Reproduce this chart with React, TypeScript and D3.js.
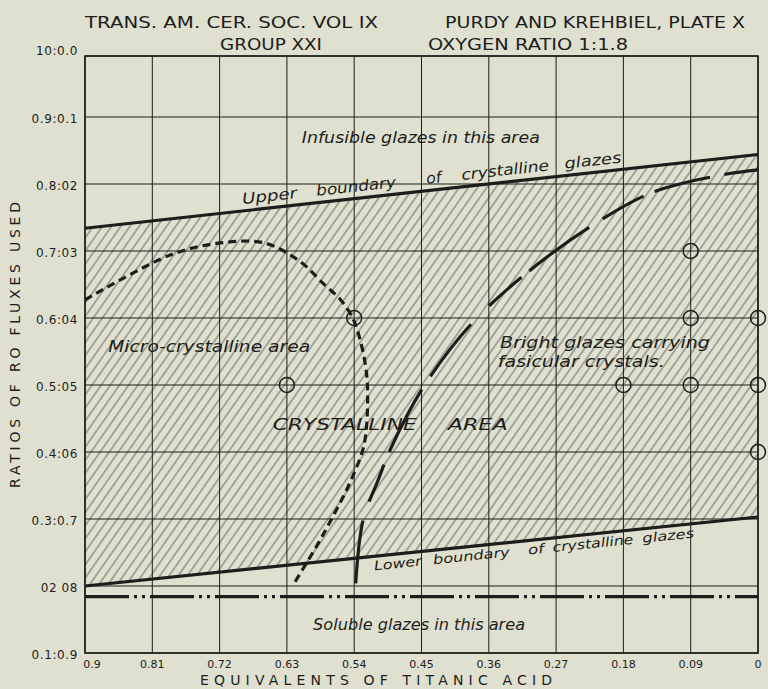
import * as d3 from "d3";

const W = 768;
const H = 689;

// axis ticks as printed on the plate
const xTicks = [0.9, 0.81, 0.72, 0.63, 0.54, 0.45, 0.36, 0.27, 0.18, 0.09, 0];
const xTickLabels = ["0.9", "0.81", "0.72", "0.63", "0.54", "0.45", "0.36", "0.27", "0.18", "0.09", "0"];
const yTicks = [1.0, 0.9, 0.8, 0.7, 0.6, 0.5, 0.4, 0.3, 0.2, 0.1];
const yTickLabels = ["10:0.0", "0.9:0.1", "0.8:02", "0.7:03", "0.6:04", "0.5:05", "0.4:06", "0.3:0.7", "02 08", "0.1:0.9"];

// boundaries [titanic acid, RO ratio]
const upperBoundary: [number, number][] = [[0.9, 0.734], [0, 0.844]];
const lowerBoundary: [number, number][] = [[0.9, 0.2], [0, 0.303]];
const solubleLimit: [number, number][] = [[0.9, 0.184], [0, 0.184]];

// micro-crystalline limit (short dashes)
const microCurve: [number, number][] = [
  [0.9, 0.627], [0.786, 0.694], [0.719, 0.712], [0.66, 0.712],
  [0.612, 0.684], [0.582, 0.652], [0.558, 0.627], [0.542, 0.6], [0.532, 0.567],
  [0.524, 0.522], [0.522, 0.478], [0.527, 0.41], [0.545, 0.356], [0.566, 0.309],
  [0.59, 0.26], [0.622, 0.201],
];

// bright glaze limit (long dashes)
const brightCurve: [number, number][] = [
  [0.538, 0.204], [0.528, 0.299], [0.508, 0.358], [0.492, 0.403], [0.448, 0.496],
  [0.381, 0.594], [0.296, 0.679], [0.215, 0.743], [0.14, 0.788], [0.051, 0.813],
  [0, 0.821],
];

const samples: [number, number][] = [
  [0.63, 0.5], [0.54, 0.6], [0.18, 0.5], [0.09, 0.7], [0.09, 0.6],
  [0.09, 0.5], [0, 0.6], [0, 0.5], [0, 0.4],
];

// area notes: text, x, y (data units, left/baseline)
const notes: { text: string; x: number; y: number; len: number }[] = [
  { text: "Infusible glazes in this area", x: 0.61, y: 0.861, len: 238 },
  { text: "Micro-crystalline area", x: 0.869, y: 0.549, len: 202 },
  { text: "Bright glazes carrying", x: 0.345, y: 0.555, len: 210 },
  { text: "fasicular crystals.", x: 0.348, y: 0.527, len: 167 },
  { text: "CRYSTALLINE", x: 0.649, y: 0.433, len: 144 },
  { text: "AREA", x: 0.415, y: 0.433, len: 60 },
  { text: "Soluble glazes in this area", x: 0.595, y: 0.134, len: 212 },
];

const upperWords = [
  { text: "Upper", x: 0.689, len: 55 },
  { text: "boundary", x: 0.59, len: 80 },
  { text: "of", x: 0.443, len: 15 },
  { text: "crystalline", x: 0.396, len: 88 },
  { text: "glazes", x: 0.258, len: 57 },
];
const lowerWords = [
  { text: "Lower", x: 0.513, len: 48 },
  { text: "boundary", x: 0.434, len: 77 },
  { text: "of", x: 0.307, len: 16 },
  { text: "crystalline", x: 0.274, len: 81 },
  { text: "glazes", x: 0.154, len: 52 },
];

const INK = "#1d1d1b";
const PAPER = "#dfe0cf";
const FONT = "'DejaVu Sans', sans-serif";

export default function App() {
  const x = d3.scaleLinear().domain([0.9, 0]).range([85, 758]);
  // the top row of the plate is drawn a little shorter than the others
  const y = d3.scaleLinear().domain([0.1, 0.9, 1.0]).range([653, 117, 56]);

  const straight = d3.line<[number, number]>().x((d) => x(d[0])).y((d) => y(d[1]));
  const smooth = d3
    .line<[number, number]>()
    .x((d) => x(d[0]))
    .y((d) => y(d[1]))
    .curve(d3.curveCatmullRom.alpha(0.5));

  const hatchPoly = [...upperBoundary, ...lowerBoundary.slice().reverse()];
  const hatchPath = straight(hatchPoly) + "Z";

  const lineAt = (b: [number, number][], v: number) => {
    const t = (v - b[0][0]) / (b[1][0] - b[0][0]);
    return b[0][1] + t * (b[1][1] - b[0][1]);
  };
  const angleOf = (b: [number, number][]) =>
    (Math.atan2(y(b[1][1]) - y(b[0][1]), x(b[1][0]) - x(b[0][0])) * 180) / Math.PI;
  const upAngle = angleOf(upperBoundary);
  const lowAngle = angleOf(lowerBoundary);

  const x0 = x(0.9);
  const x1 = x(0);
  const y0 = y(1.0);
  const y1 = y(0.1);

  return (
    <div style={{ position: "absolute", left: 0, top: 0, width: W, height: H, background: PAPER }}>
      <svg width={W} height={H} style={{ display: "block" }} fontFamily={FONT}>
        <defs>
          <pattern
            id="hatch"
            patternUnits="userSpaceOnUse"
            width={7.5}
            height={7.5}
            patternTransform="rotate(35)"
          >
            <line x1={3.75} y1={0} x2={3.75} y2={7.5} stroke="#4a4a45" strokeWidth={0.8} />
          </pattern>
        </defs>
        <rect width={W} height={H} fill={PAPER} />

        {/* title block */}
        <g fill={INK} fontSize={15}>
          <text x={85} y={28} textLength={293} lengthAdjust="spacingAndGlyphs">
            TRANS. AM. CER. SOC. VOL IX
          </text>
          <text x={445} y={28} textLength={300} lengthAdjust="spacingAndGlyphs">
            PURDY AND KREHBIEL, PLATE X
          </text>
          <text x={220} y={50} textLength={102} lengthAdjust="spacingAndGlyphs">
            GROUP XXI
          </text>
          <text x={428} y={50} textLength={200} lengthAdjust="spacingAndGlyphs">
            OXYGEN RATIO 1:1.8
          </text>
        </g>

        {/* hatched crystalline band */}
        <path d={hatchPath} fill="url(#hatch)" />

        {/* grid */}
        <g stroke={INK} strokeWidth={1}>
          {xTicks.map((t) => (
            <line key={"gx" + t} x1={x(t)} x2={x(t)} y1={y0} y2={y1} />
          ))}
          {yTicks.map((t) => (
            <line key={"gy" + t} x1={x0} x2={x1} y1={y(t)} y2={y(t)} />
          ))}
        </g>
        <rect x={x0} y={y0} width={x1 - x0} height={y1 - y0} fill="none" stroke={INK} strokeWidth={1.6} />

        {/* tick labels */}
        <g fill={INK} fontSize={12}>
          {yTicks.map((t, i) => (
            <text key={"ty" + t} x={78} y={y(t) + (i === 0 ? -1 : 6)} textAnchor="end" letterSpacing={0.6}>
              {yTickLabels[i]}
            </text>
          ))}
          {xTicks.map((t, i) => (
            <text key={"tx" + t} x={x(t) + (i === 0 ? 7 : 0)} y={668} fontSize={11} textAnchor="middle">
              {xTickLabels[i]}
            </text>
          ))}
        </g>

        {/* axis titles */}
        <text x={376} y={685} fontSize={14} fill={INK} textAnchor="middle" textLength={352} lengthAdjust="spacing">
          EQUIVALENTS   OF   TITANIC   ACID
        </text>
        <text
          transform={`translate(20,345) rotate(-90)`}
          fontSize={14}
          fill={INK}
          textAnchor="middle"
          textLength={286}
          lengthAdjust="spacing"
        >
          RATIOS OF RO FLUXES USED
        </text>

        {/* boundaries */}
        <path d={straight(upperBoundary) || ""} fill="none" stroke={INK} strokeWidth={3.2} />
        <path d={straight(lowerBoundary) || ""} fill="none" stroke={INK} strokeWidth={3.2} />
        <path
          d={straight(solubleLimit) || ""}
          fill="none"
          stroke={INK}
          strokeWidth={3.2}
          strokeDasharray="44 5 3 5 3 5"
        />
        <path
          d={smooth(microCurve) || ""}
          fill="none"
          stroke={INK}
          strokeWidth={3.2}
          strokeDasharray="8 5"
        />
        <path
          d={smooth(brightCurve) || ""}
          fill="none"
          stroke={INK}
          strokeWidth={3.2}
          strokeDasharray="63 20 40 14 70 16 66 26 43 10 74 16 47 12 57 15 40"
        />

        {/* sample circles */}
        <g fill="none" stroke={INK} strokeWidth={1.5}>
          {samples.map((d, i) => (
            <circle key={"s" + i} cx={x(d[0])} cy={y(d[1])} r={7.5} />
          ))}
        </g>

        {/* area notes */}
        <g fill={INK} fontSize={15} fontStyle="italic">
          {notes.map((n) => (
            <text key={n.text} x={x(n.x)} y={y(n.y)} textLength={n.len} lengthAdjust="spacingAndGlyphs">
              {n.text}
            </text>
          ))}
          {upperWords.map((w) => {
            const px = x(w.x);
            const py = y(lineAt(upperBoundary, w.x)) - 7;
            return (
              <text
                key={"u" + w.text}
                transform={`translate(${px},${py}) rotate(${upAngle})`}
                textLength={w.len}
                lengthAdjust="spacingAndGlyphs"
              >
                {w.text}
              </text>
            );
          })}
          {lowerWords.map((w) => {
            const px = x(w.x);
            const py = y(lineAt(lowerBoundary, w.x)) + 14;
            return (
              <text
                key={"l" + w.text}
                fontSize={13}
                transform={`translate(${px},${py}) rotate(${lowAngle})`}
                textLength={w.len}
                lengthAdjust="spacingAndGlyphs"
              >
                {w.text}
              </text>
            );
          })}
        </g>
      </svg>
    </div>
  );
}
